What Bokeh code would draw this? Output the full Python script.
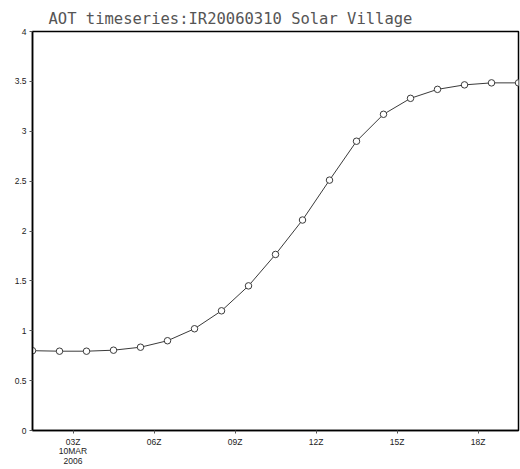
from bokeh.plotting import figure
from bokeh.models import FixedTicker, Range1d
from bokeh.embed import file_html
from bokeh.resources import INLINE

hours = [1.5, 2.5, 3.5, 4.5, 5.5, 6.5, 7.5, 8.5, 9.5, 10.5,
         11.5, 12.5, 13.5, 14.5, 15.5, 16.5, 17.5, 18.5, 19.5]
aot = [0.80, 0.795, 0.795, 0.805, 0.835, 0.90, 1.02, 1.20, 1.45, 1.765,
       2.11, 2.51, 2.90, 3.17, 3.33, 3.42, 3.465, 3.485, 3.485]

x_ticks = [3, 6, 9, 12, 15, 18]
x_labels = ["03Z\n10MAR\n2006", "06Z", "09Z", "12Z", "15Z", "18Z"]
y_ticks = [0, 0.5, 1, 1.5, 2, 2.5, 3, 3.5, 4]
y_labels = ["0", "0.5", "1", "1.5", "2", "2.5", "3", "3.5", "4"]
title_text = "AOT timeseries:IR20060310 Solar Village"

p = figure(width=520, height=469, output_backend="svg", toolbar_location=None,
           x_range=Range1d(1.5, 19.5), y_range=Range1d(0, 4),
           min_border_left=32, min_border_right=2, min_border_top=31,
           min_border_bottom=39)

p.title.text = title_text
p.title.text_font = "DejaVu Sans Mono"
p.title.text_font_size = "15.5px"
p.title.text_font_style = "normal"
p.title.text_color = "#555555"
p.title.align = "left"
p.title.offset = 16
p.title.standoff = 8

p.xgrid.visible = False
p.ygrid.visible = False
p.outline_line_color = "black"
p.outline_line_width = 1.5
p.background_fill_color = "white"
p.border_fill_color = "white"

p.xaxis.ticker = FixedTicker(ticks=x_ticks)
p.xaxis.major_label_overrides = dict(zip(x_ticks, x_labels))
p.yaxis.ticker = FixedTicker(ticks=y_ticks)
p.yaxis.major_label_overrides = dict(zip(y_ticks, y_labels))

for ax in (p.xaxis[0], p.yaxis[0]):
    ax.axis_line_color = "black"
    ax.axis_line_width = 1.5
    ax.major_tick_line_color = "#555555"
    ax.major_tick_out = 3
    ax.major_tick_in = 0
    ax.minor_tick_line_color = None
    ax.major_label_text_font = "Liberation Sans"
    ax.major_label_text_font_size = "8.5px"
    ax.major_label_text_color = "#222222"
    ax.major_label_text_line_height = 0.95
    ax.major_label_standoff = 3

p.line(hours, aot, line_color="#3a3a3a", line_width=1)
p.scatter(hours, aot, size=6.5, marker="circle", line_color="#3a3a3a",
          fill_color="white", line_width=1)

open("out.html", "w").write(file_html(p, INLINE))
